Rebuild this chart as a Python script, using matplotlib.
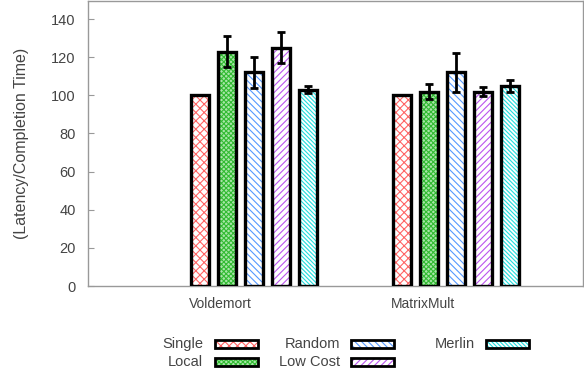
import matplotlib
matplotlib.use("Agg")
import matplotlib.pyplot as plt
from matplotlib.patches import Rectangle
import numpy as np

plt.rcParams['font.family'] = ['Liberation Sans', 'DejaVu Sans']
plt.rcParams['hatch.linewidth'] = 0.8

groups = ["Voldemort", "MatrixMult"]
series = ["Single", "Local", "Random", "Low Cost", "Merlin"]
values = {
    "Single":   [100, 100],
    "Local":    [123, 102],
    "Random":   [112, 112],
    "Low Cost": [125, 102],
    "Merlin":   [103, 105],
}
errors = {
    "Single":   [None, None],
    "Local":    [8, 4],
    "Random":   [8, 10],
    "Low Cost": [8, 2.2],
    "Merlin":   [1.8, 3.2],
}
yticks = [0, 20, 40, 60, 80, 100, 120, 140]

styles = {
    "Single":   dict(face="white", hc="#ff6666", hatch="xxxx"),
    "Local":    dict(face="#a8e6a8", hc="#33bb33", hatch="xxxxxxx"),
    "Random":   dict(face="white", hc="#5599ff", hatch="\\\\\\\\\\"),
    "Low Cost": dict(face="white", hc="#bb55ee", hatch="/////"),
    "Merlin":   dict(face="white", hc="#22dddd", hatch="\\\\\\\\\\\\\\\\"),
}
txt = "#444444"
spine_c = "#999999"

fig = plt.figure(figsize=(5.84, 3.74), dpi=100)
ax = fig.add_axes([88/584, 1-286/374, (583-88)/584, (286-1)/374])

width = 0.089
step = 0.133
x = np.arange(len(groups))
for i, s in enumerate(series):
    off = (i - 2) * step
    st = styles[s]
    ax.bar(x + off, values[s], width, facecolor=st["face"], edgecolor=st["hc"],
           hatch=st["hatch"], linewidth=0, zorder=2)
    ax.bar(x + off, values[s], width, fill=False, edgecolor="black",
           linewidth=2.4, zorder=3)
    for j in range(len(groups)):
        e = errors[s][j]
        if e is not None:
            ax.errorbar(x[j] + off, values[s][j], yerr=e, fmt="none",
                        ecolor="black", elinewidth=2, capsize=3,
                        capthick=2, zorder=4)

ax.set_xlim(-0.818, 1.626)
ax.set_ylim(0, 149.5)
ax.set_yticks(yticks)
ax.set_yticklabels([str(v) for v in yticks])
ax.set_xticks(x - 0.163)
ax.set_xticklabels(groups)
ax.tick_params(axis='y', direction='in', length=4, color=spine_c, labelcolor=txt,
               labelsize=10.5, pad=9)
ax.tick_params(axis='x', length=0, labelcolor=txt, labelsize=10, pad=8)
for sp in ax.spines.values():
    sp.set_color(spine_c)
    sp.set_linewidth(1)
ax.set_ylabel("(Latency/Completion Time)", color=txt, fontsize=11.5, labelpad=16)

# manual legend (figure pixel layout)
W, H = 584, 374
text_right = [203, 203, 340, 340, 475]
patch_left = [215, 215, 351, 351, 486]
row_y = [344, 362, 344, 362, 344]
pw, ph = 43, 8
for s, tr, pl, ry in zip(series, text_right, patch_left, row_y):
    st = styles[s]
    fig.text(tr / W, 1 - ry / H, s, ha="right", va="center", color=txt, fontsize=10.5)
    r1 = Rectangle((pl / W, 1 - (ry + ph / 2) / H), pw / W, ph / H,
                   transform=fig.transFigure, facecolor=st["face"], edgecolor=st["hc"],
                   hatch=st["hatch"], linewidth=0)
    r2 = Rectangle((pl / W, 1 - (ry + ph / 2) / H), pw / W, ph / H,
                   transform=fig.transFigure, fill=False, edgecolor="black", linewidth=2)
    fig.patches.extend([r1, r2])

fig.savefig("out.png", dpi=100)
